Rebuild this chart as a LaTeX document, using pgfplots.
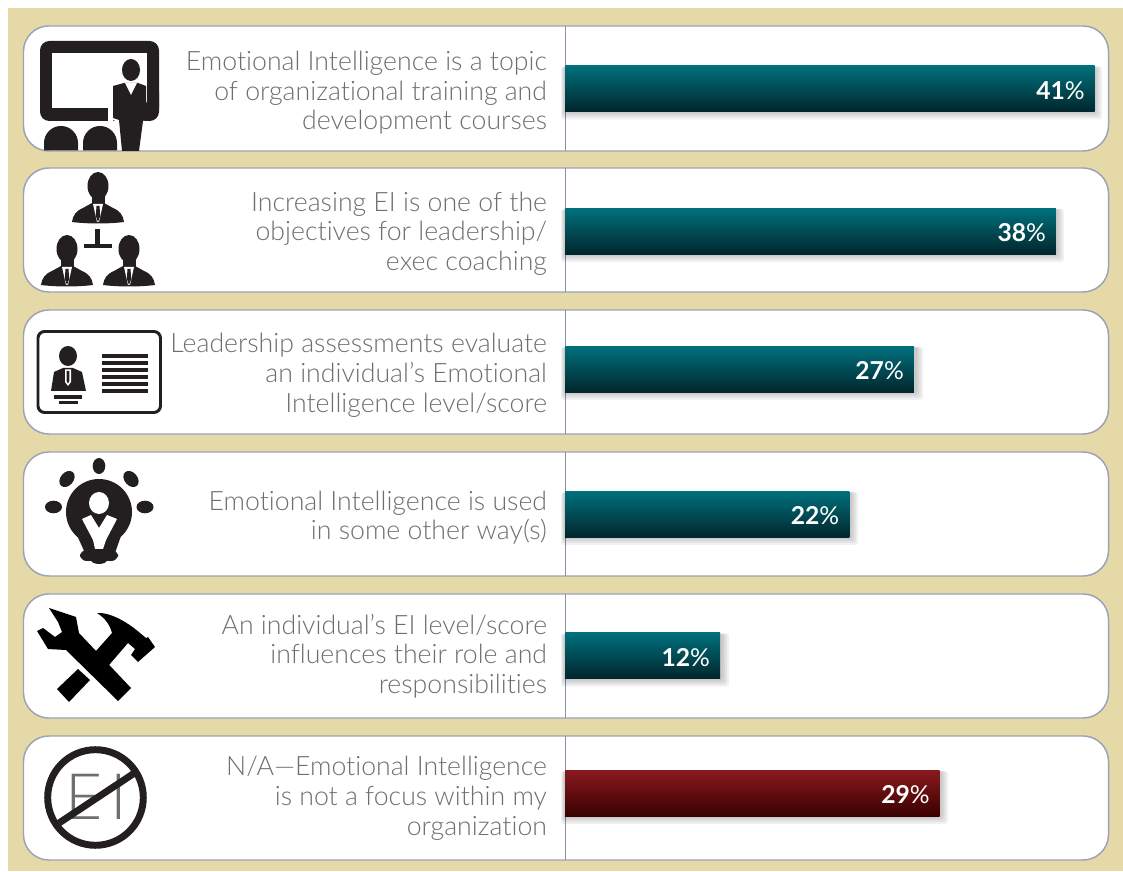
\documentclass[border=0pt]{standalone}
\usepackage{pgfplots}
\pgfplotsset{compat=1.18}
\usepackage{fontspec}
\setmainfont{Lato}
\newfontfamily\lightfont[Ligatures=NoCommon]{Lato Light}
\definecolor{tan}{HTML}{E5D9A8}
\definecolor{edge}{HTML}{9CA1B6}
\definecolor{divider}{HTML}{8A90AC}
\definecolor{ink}{HTML}{231F20}
\definecolor{labelgray}{HTML}{6D6E71}
\definecolor{tealtop}{HTML}{00717D}
\definecolor{tealmid}{HTML}{014C56}
\definecolor{tealbot}{HTML}{01262D}
\definecolor{redtop}{HTML}{8A1A1E}
\definecolor{redmid}{HTML}{5C0203}
\definecolor{redbot}{HTML}{3A0000}
\newcommand\person[2]{%
 \begin{scope}[shift={(#1,#2)}]
  \fill[ink] (0,14) ellipse (10.5 and 14);
  \fill[ink] (-6.5,22) rectangle (6.5,33);
  \fill[ink] (-26,50) .. controls (-25,43) and (-22,39) .. (-15,36) -- (-6,31) -- (6,31) -- (15,36) .. controls (22,39) and (25,43) .. (26,50) .. controls (10,52) and (-10,52) .. (-26,50) -- cycle;
  \fill[white] (-5,32) -- (-1,50) -- (1,50) -- (5,32) -- cycle;
  \fill[ink] (-1.5,34) -- (1.5,34) -- (2.2,44) -- (0,50) -- (-2.2,44) -- cycle;
 \end{scope}}
\begin{document}
\begin{tikzpicture}
\fill[white] (0,0) rectangle (842.25pt,653.25pt);
\begin{scope}[shift={(0pt,653.25pt)},x=0.75pt,y=-0.75pt]
 \fill[tan] (8,8) rectangle (1123,871);
 \foreach \a/\b in {26/151,168/292,310/434,452/576,594/718,736/860}{
  \draw[edge,line width=1.1pt,fill=white,rounded corners=19pt] (23.5,\a) rectangle (1108.5,\b);
  \draw[divider,line width=1.4pt] (565.5,\a) -- (565.5,\b);
 }
 % bar shadows
 \foreach \c/\e in {88.5/1094,231/1056,369/915,514/850,655.5/721,793/940}{
  \foreach \d in {8,6,4,2}{
   \fill[black,fill opacity=0.055,rounded corners=2pt] (565-0.5*\d,\c-23+1) rectangle (\e+\d,\c+23+\d);
  }
 }
 % icon 1
 \fill[ink,rounded corners=7pt] (40,41) rectangle (159,121);
 \fill[white] (52,53) rectangle (147,108);
 \fill[white] (108,100) rectangle (113,122);
 \fill[ink] (131,70) ellipse (9 and 11);
 \fill[white] (108,82) -- (108,112) -- (113,120) -- (118,122) -- (145,122) -- (147,82) -- cycle;
 \fill[ink,rounded corners=2pt] (159,90) -- (159,111) -- (146,121) -- (142,121) -- (147,100) -- cycle;
 \fill[ink] (113,86) -- (124,83) -- (138,83) -- (146,86) -- (146,118) -- (143,121) -- (139,151) -- (122,151) -- (119,120) -- (113,118) -- cycle;
 \fill[white] (125,83) -- (131,95) -- (137,83) -- cycle;
 \fill[ink] (44,150.5) -- (44,143) arc[start angle=180,end angle=360,x radius=17,y radius=17] -- (78,150.5) -- cycle;
 \fill[ink] (83,150.5) -- (83,143) arc[start angle=180,end angle=360,x radius=17,y radius=17] -- (117,150.5) -- cycle;
 % icon 2
 \person{98}{172}
 \person{67}{235}
 \person{129}{235}
 \fill[ink] (95,229) rectangle (100,245);
 \fill[ink] (84,244) rectangle (112,248.5);
 % icon 3
 \draw[ink,line width=2.2pt,rounded corners=5pt] (38,331.5) rectangle (160.5,412.5);
 \fill[ink] (68,356) ellipse (9 and 10);
 \fill[ink] (51,391) -- (54,372) -- (63,368) -- (73,368) -- (82,372) -- (86,391) -- cycle;
 \fill[white] (65,369.5) -- (71,369.5) -- (71,382) -- (68,386) -- (65,382) -- cycle;
 \fill[ink] (66.7,371) -- (69.3,371) -- (69.3,381) -- (68,383.5) -- (66.7,381) -- cycle;
 \fill[ink] (54,395) rectangle (82,399);
 \fill[ink] (59,401) rectangle (78,404);
 \foreach \y in {354,361,368,375,382,389}{\fill[ink] (102,\y) rectangle (148,\y+4);}
 % icon 4
 \fill[ink] (99,512) circle (33);
 \fill[ink] (76,533) -- (122,533) -- (115,553) -- (85,553) -- cycle;
 \fill[ink,rounded corners=5pt] (80,550) rectangle (118,561);
 \fill[ink] (99,560) ellipse (8 and 4);
 \fill[ink] (99,466) ellipse (6.3 and 8);
 \fill[ink,rotate around={-40:(67,479)}] (67,479) ellipse (6.5 and 9);
 \fill[ink,rotate around={40:(131,479)}] (131,479) ellipse (6.5 and 9);
 \fill[ink] (53.5,507) ellipse (8.5 and 6.3);
 \fill[ink] (145,507) ellipse (8.5 and 6.3);
 \fill[white] (99,503) ellipse (10 and 11);
 \fill[white] (82,519) -- (91,515) -- (99,528) -- (107,515) -- (117,519) -- (106,540) -- (103,549) -- (95,549) -- (93,540) -- cycle;
 % icon 5
 \fill[black] (49,608) -- (76,617) -- (79,633) -- (131,688) -- (118,701) -- (66,650) -- (48,649) -- (37,631) -- (43,628) -- (55,637) -- (62,632) -- (58,622) -- cycle;
 \fill[black] (78,669) -- (90,680) -- (69,702) -- (57,689) -- cycle;
 \fill[black] (88,660) -- (112,633) .. controls (110,625) and (105,618) .. (97,613) .. controls (108,612) and (125,620) .. (140,633) -- (146,638) -- (148,637) -- (155,647) -- (138,662) -- (131,655) -- (135,649) -- (128,643) -- (103,672) -- cycle;
 % icon 6
 \node[text=labelgray,inner sep=0pt,font=\lightfont\fontsize{48}{48}\selectfont] at (96,797) {E\kern6pt I};
 \draw[ink,line width=5.2pt] (95.5,797.5) circle (47.8);
 \draw[ink,line width=5.2pt] (59,823) -- (136,772);
\end{scope}
\begin{axis}[
 at={(0,0)},anchor=south west,scale only axis,
 width=842.25pt,height=653.25pt,
 xmin=-43.731,xmax=43.189,ymin=0,ymax=871,
 y dir=reverse,clip=false,
 axis x line=none,axis y line=center,
 axis line style={draw=none},
 major tick length=0pt,
 ytick={90,231,372.5,515,653.5,795.5},
 yticklabels={
  {Emotional Intelligence is a topic\\of organizational training and\\development courses},
  {Increasing EI is one of the\\objectives for leadership/\\exec coaching},
  {Leadership assessments evaluate\\an individual’s Emotional\\Intelligence level/score},
  {Emotional Intelligence is used\\in some other way(s)},
  {An individual’s EI level/score\\influences their role and\\responsibilities},
  {N/A—Emotional Intelligence\\is not a focus within my\\organization}},
 yticklabel style={align=right,anchor=east,xshift=-10pt,yshift=-2pt,text=labelgray,
   font=\lightfont\fontsize{20}{22.2}\selectfont},
 bar shift=0pt,bar width=34.5pt,
 point meta=x,
 nodes near coords={\pgfmathprintnumber{\pgfplotspointmeta}{\mdseries\%}},
 nodes near coords style={anchor=east,xshift=-4pt,yshift=-1.5pt,text=white,
   font=\bfseries\fontsize{18.5}{20}\selectfont,
   /pgf/number format/assume math mode=true},
 teal/.style={xbar,draw=none,top color=tealtop,middle color=tealmid,bottom color=tealbot},
 maroon/.style={xbar,draw=none,top color=redtop,middle color=redmid,bottom color=redbot},
]
\addplot[teal] coordinates {(41,88.5)};
\addplot[teal] coordinates {(38,231)};
\addplot[teal] coordinates {(27,369)};
\addplot[teal] coordinates {(22,514)};
\addplot[teal] coordinates {(12,655.5)};
\addplot[maroon] coordinates {(29,793)};
\end{axis}
\end{tikzpicture}
\end{document}
